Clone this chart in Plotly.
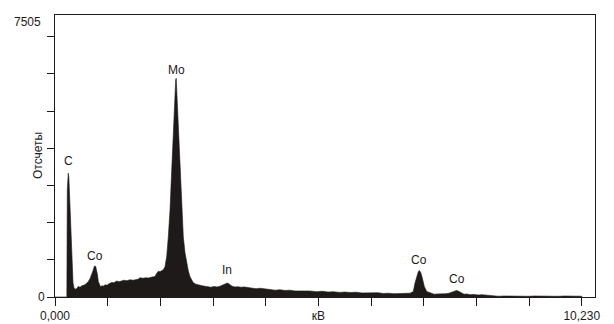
import plotly.graph_objects as go

# EDS spectrum: energy (keV) and counts
energy_kev = [0.00, 0.23, 0.239, 0.249, 0.258, 0.270, 0.282, 0.295, 0.311, 0.330,
              0.350, 0.369, 0.388, 0.418, 0.453, 0.486, 0.524, 0.583, 0.622, 0.647,
              0.680, 0.713, 0.738, 0.761, 0.777, 0.792, 0.810, 0.825, 0.841, 0.860,
              0.884, 0.913, 0.942, 0.971, 1.010, 1.049, 1.101, 1.146, 1.198, 1.243,
              1.295, 1.340, 1.398, 1.457, 1.515, 1.554, 1.612, 1.651, 1.709, 1.767,
              1.812, 1.865, 1.903, 1.942, 1.971, 2.006, 2.039, 2.072, 2.103, 2.136,
              2.169, 2.201, 2.234, 2.267, 2.298, 2.331, 2.344, 2.354, 2.366, 2.375,
              2.395, 2.414, 2.437, 2.461, 2.492, 2.525, 2.558, 2.589, 2.622, 2.655,
              2.686, 2.739, 2.797, 2.855, 2.913, 2.972, 3.030, 3.088, 3.146, 3.205,
              3.263, 3.302, 3.346, 3.389, 3.438, 3.496, 3.554, 3.612, 3.671, 3.748,
              3.826, 3.904, 3.981, 4.079, 4.176, 4.273, 4.370, 4.467, 4.564, 4.661,
              4.758, 4.856, 4.953, 5.083, 5.186, 5.302, 5.405, 5.535, 5.632, 5.729,
              5.846, 5.963, 6.060, 6.176, 6.273, 6.376, 6.468, 6.584, 6.700, 6.798,
              6.895, 6.934, 6.959, 6.992, 7.025, 7.056, 7.075, 7.103, 7.134, 7.173,
              7.219, 7.283, 7.361, 7.439, 7.516, 7.594, 7.652, 7.705, 7.750, 7.802,
              7.847, 7.899, 7.944, 8.002, 8.061, 8.138, 8.216, 8.293, 8.371, 8.449,
              8.507, 8.604, 8.740, 8.876, 9.031, 9.187, 9.323, 9.459, 9.614, 9.769,
              9.905, 10.041, 10.158, 10.230, 10.240]

counts = [0, 0, 2882, 3258, 3331, 3204, 2748, 2211, 1405, 733,
          384, 250, 210, 223, 285, 263, 304, 330, 371, 419,
          492, 599, 706, 814, 841, 814, 733, 599, 419, 330,
          277, 304, 290, 330, 317, 357, 392, 384, 430, 411,
          424, 451, 438, 465, 451, 465, 478, 518, 505, 518,
          510, 532, 545, 553, 626, 693, 680, 706, 733, 814,
          1082, 1620, 2345, 3419, 4494, 5568, 5837, 5882, 5514, 5219,
          4547, 3876, 3204, 2533, 1620, 1190, 921, 706, 545, 465,
          384, 344, 317, 304, 290, 277, 263, 285, 269, 290,
          330, 357, 376, 344, 290, 269, 277, 263, 271, 255,
          242, 223, 236, 210, 201, 183, 196, 175, 183, 164,
          169, 156, 161, 142, 156, 134, 142, 124, 134, 121,
          129, 110, 115, 102, 115, 94, 102, 89, 94, 89,
          102, 129, 150, 376, 553, 680, 714, 661, 510, 285,
          150, 107, 75, 83, 81, 89, 102, 129, 156, 177,
          150, 107, 75, 81, 62, 70, 54, 62, 48, 54,
          27, 21, 27, 19, 24, 19, 27, 19, 24, 19,
          27, 21, 24, 21, 0]

# peak labels
label_text = ["C", "Co", "Mo", "In", "Co", "Co"]
label_kev = [0.258, 0.777, 2.354, 3.346, 7.075, 7.802]
label_counts = [3331, 841, 5882, 376, 714, 177]
label_shift = [12, 10, 8, 13, 10, 11]   # px above the peak top (style)

# axis ticks
x_tick_vals = [0.0, 1.023, 2.046, 3.069, 4.092, 5.115, 6.138, 7.161, 8.184, 9.207, 10.23]
x_tick_text = ["0,000", "", "", "", "", "кВ", "", "", "", "", "10,230"]
y_tick_vals = [0, 1000, 2000, 3000, 4000, 5000, 6000, 7000]
y_tick_text = ["0", "", "", "", "", "", "", ""]
y_max_label = "7505"
y_title = "Отсчеты"

FONT = "Liberation Sans, Arial, sans-serif"
INK = "#1e1a1a"

fig = go.Figure()
fig.add_trace(go.Scatter(
    x=energy_kev, y=counts, mode="lines",
    line=dict(color=INK, width=0.6),
    fill="tozeroy", fillcolor=INK,
    hoverinfo="skip", showlegend=False,
))

for t, xv, yv, s in zip(label_text, label_kev, label_counts, label_shift):
    fig.add_annotation(x=xv, y=yv, text=t, showarrow=False,
                       xanchor="center", yanchor="middle", yshift=s,
                       font=dict(family=FONT, size=12, color=INK))

fig.add_annotation(xref="paper", yref="paper", x=-0.0217, y=0.976,
                   text=y_max_label, showarrow=False,
                   xanchor="right", yanchor="middle",
                   font=dict(family=FONT, size=12, color=INK))
fig.add_annotation(xref="paper", yref="paper", x=-0.0315, y=0.5035,
                   text=y_title, textangle=-90, showarrow=False,
                   xanchor="center", yanchor="middle",
                   font=dict(family=FONT, size=12, color=INK))

fig.update_layout(
    width=614, height=324,
    margin=dict(l=55, r=19, t=15, b=27, autoexpand=False),
    paper_bgcolor="white", plot_bgcolor="white",
    font=dict(family=FONT, size=12, color=INK),
)
fig.update_xaxes(
    range=[0, 10.488], tickmode="array", tickvals=x_tick_vals, ticktext=x_tick_text,
    ticks="outside", ticklen=8, tickwidth=1, tickcolor=INK, automargin=False,
    showline=True, linecolor=INK, linewidth=1, mirror=True,
    showgrid=False, zeroline=False, tickfont=dict(family=FONT, size=12, color=INK),
)
fig.update_yaxes(
    range=[0, 7583], tickmode="array", tickvals=y_tick_vals, ticktext=y_tick_text,
    ticks="outside", ticklen=7, tickwidth=1, tickcolor=INK, automargin=False,
    showline=True, linecolor=INK, linewidth=1, mirror=True,
    showgrid=False, zeroline=False, tickfont=dict(family=FONT, size=12, color=INK),
)

fig.write_html("out.html")
